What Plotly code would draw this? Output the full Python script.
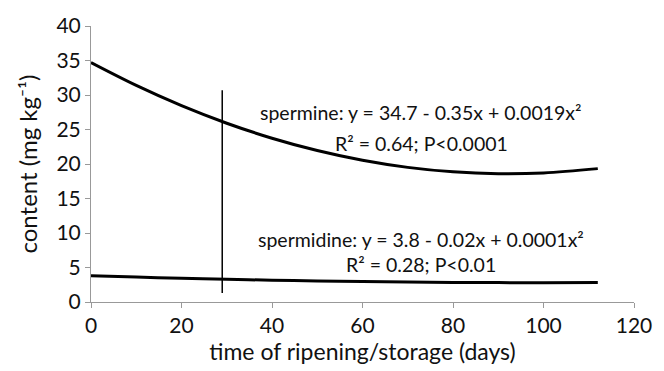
import plotly.graph_objects as go

# storage time (days) and fitted polyamine content (mg/kg)
days = [0, 10, 20, 30, 40, 50, 60, 70, 80, 90, 100, 112]
spermine = [34.7, 31.39, 28.46, 25.91, 23.74, 21.95, 20.54, 19.51, 18.86, 18.59, 18.7, 19.33]
spermidine = [3.8, 3.61, 3.44, 3.29, 3.16, 3.05, 2.96, 2.89, 2.84, 2.81, 2.8, 2.81]

# vertical marker at day 29
marker_x = [29, 29]
marker_y = [1.3, 30.7]

x_ticks = [0, 20, 40, 60, 80, 100, 120]
y_ticks = [0, 5, 10, 15, 20, 25, 30, 35, 40]

FONT = "Lato, 'Open Sans', sans-serif"

fig = go.Figure()
fig.add_trace(go.Scatter(x=days, y=spermine, mode="lines",
                         line=dict(color="black", width=3, shape="spline")))
fig.add_trace(go.Scatter(x=days, y=spermidine, mode="lines",
                         line=dict(color="black", width=3, shape="spline")))
fig.add_trace(go.Scatter(x=marker_x, y=marker_y, mode="lines",
                         line=dict(color="black", width=1.5)))

ann_font = dict(family=FONT, size=19.5, color="#111")
annotations = [
    ("spermine: y = 34.7 - 0.35x + 0.0019x²", 27.4),
    ("R² = 0.64; P&lt;0.0001", 22.9),
    ("spermidine: y = 3.8 - 0.02x + 0.0001x²", 9.0),
    ("R² = 0.28; P&lt;0.01", 5.4),
]
for txt, yv in annotations:
    fig.add_annotation(x=73, y=yv, xref="x", yref="y", text=txt, showarrow=False,
                       font=ann_font, xanchor="center", yanchor="middle")

fig.update_layout(
    width=664, height=371,
    margin=dict(l=91, r=30, t=24, b=68),
    paper_bgcolor="white", plot_bgcolor="white",
    showlegend=False,
    font=dict(family=FONT, size=21, color="#111"),
)
fig.update_xaxes(range=[0, 120], tickvals=x_ticks, showgrid=False, zeroline=False,
                 showline=True, linecolor="#999", linewidth=1,
                 ticks="outside", ticklen=5, tickcolor="#999",
                 title=dict(text="time of ripening/storage (days)", standoff=6,
                            font=dict(size=23)))
fig.update_yaxes(range=[0, 40], tickvals=y_ticks, showgrid=False, zeroline=False,
                 showline=True, linecolor="#999", linewidth=1,
                 ticks="outside", ticklen=5, tickcolor="#999",
                 title=dict(text="content (mg kg⁻¹)", standoff=12,
                            font=dict(size=24)))

fig.write_html("out.html")
